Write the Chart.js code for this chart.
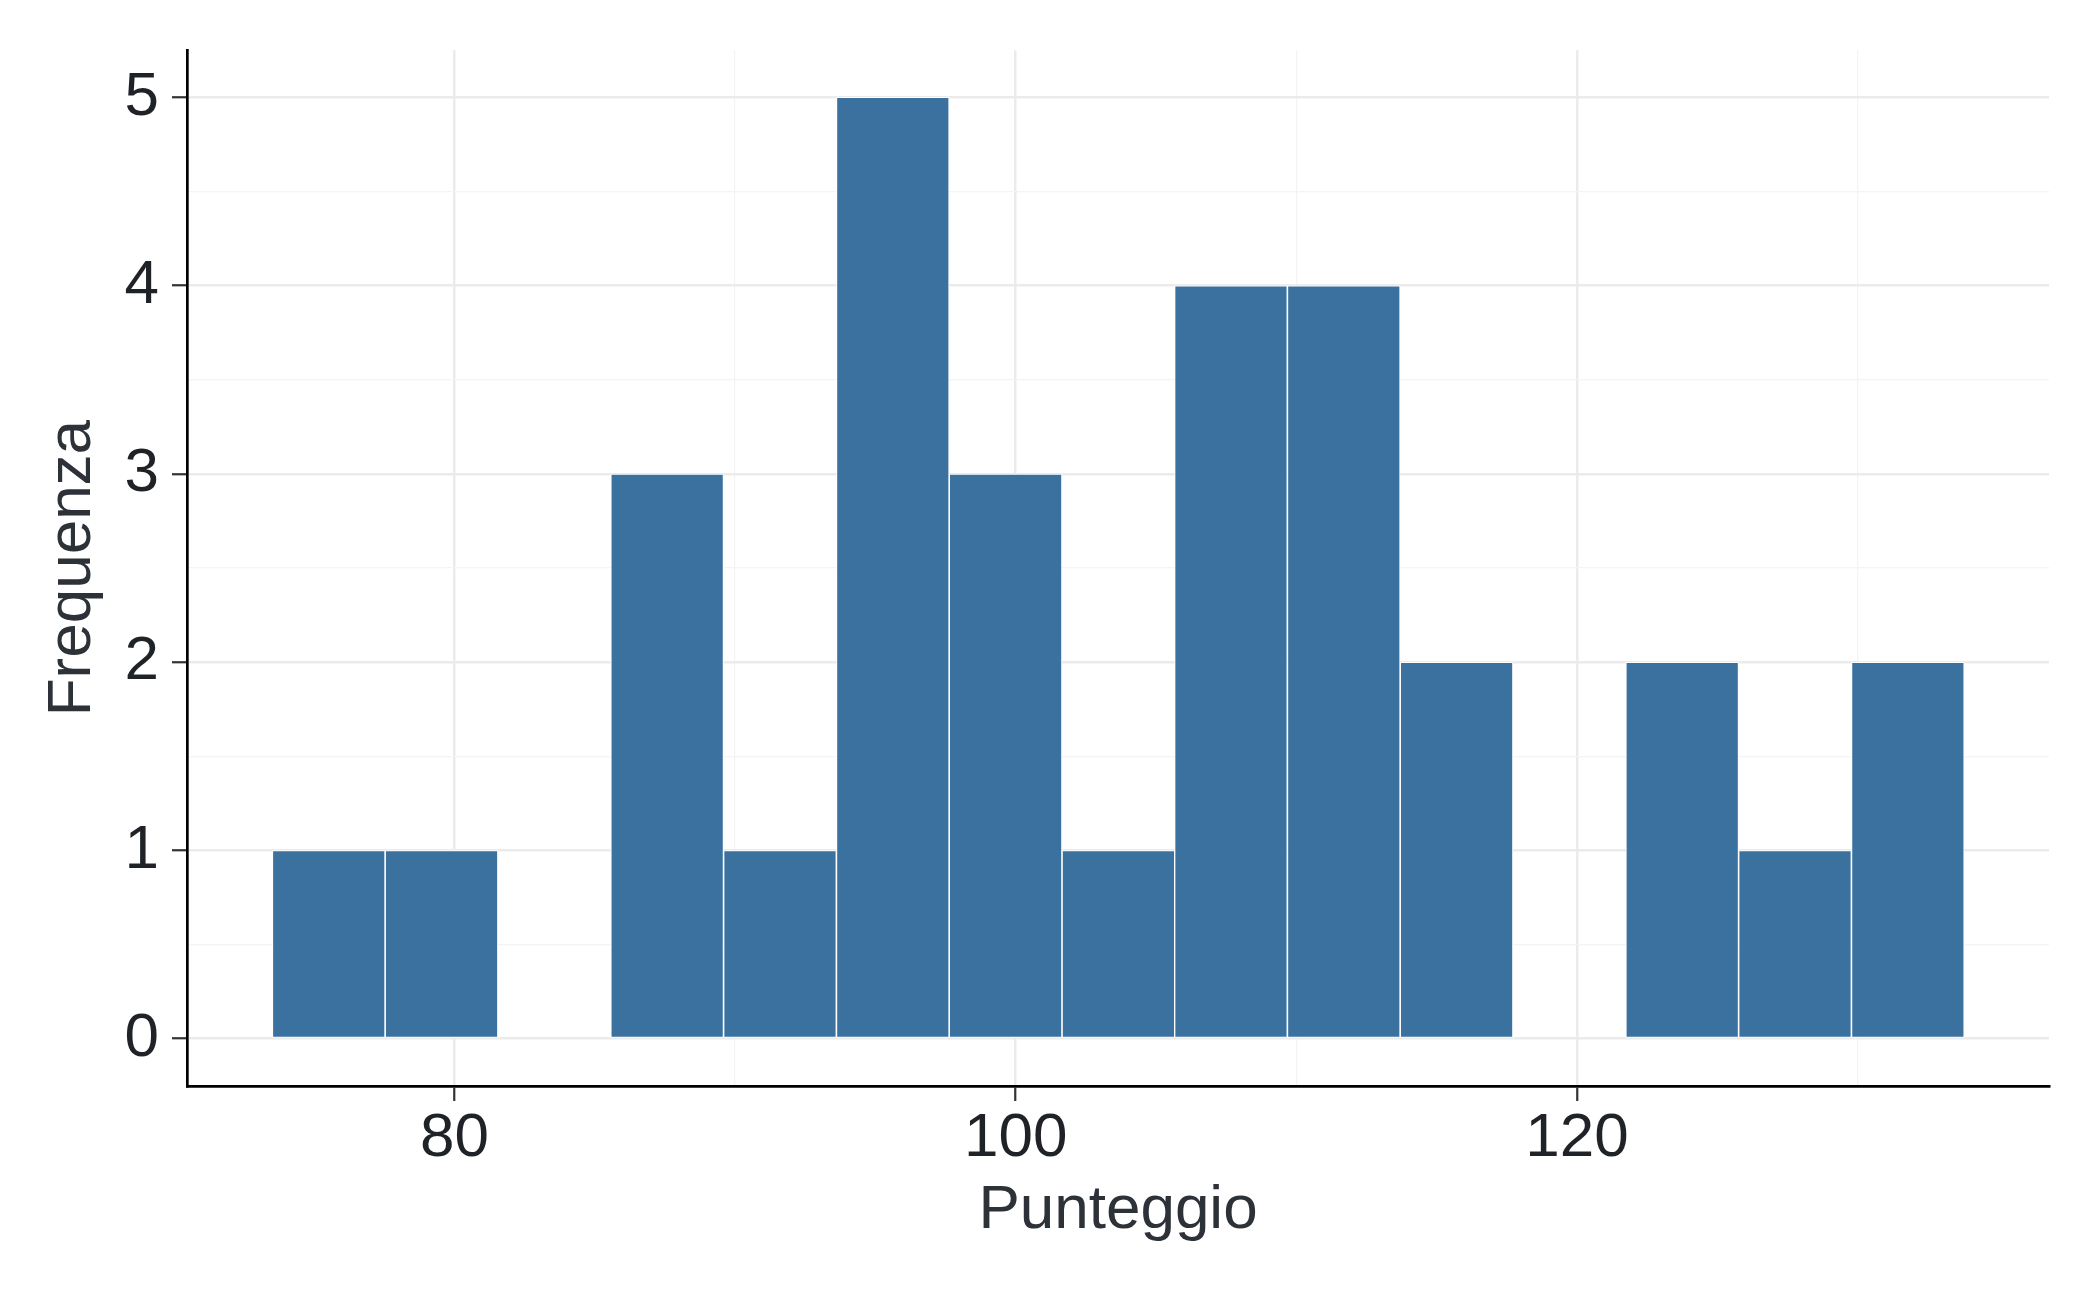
<!DOCTYPE html>
<html lang="it">
<head>
    <meta charset="UTF-8">
    <title>Istogramma - Punteggio</title>
    <script src="https://cdn.jsdelivr.net/npm/chart.js"></script>
    <style>
        body {
            margin: 0;
            background-color: #ffffff;
        }

        .wrap {
            width: 2100px;
            height: 1297px;
            position: relative;
        }
    </style>
</head>
<body>
    <div class="wrap">
        <canvas id="istogramma"></canvas>
    </div>

    <script>
        // centri delle classi (ampiezza ~4.02) e frequenze
        const centri = [75.52, 79.54, 83.56, 87.58, 91.60, 95.62, 99.64, 103.66,
                        107.67, 111.69, 115.71, 119.73, 123.75, 127.77, 131.79];
        const frequenze = [1, 1, 0, 3, 1, 5, 3, 1, 4, 4, 2, 0, 2, 1, 2];

        const tickX = [80, 100, 120];
        const tickY = [0, 1, 2, 3, 4, 5];

        const font = { family: "'Liberation Sans', Arial, sans-serif", size: 62 };
        const gridMaggiore = '#ebebeb';
        const gridMinore = '#f4f4f4';
        const blu = '#3a719f';

        const ctx = document.getElementById('istogramma').getContext('2d');
        new Chart(ctx, {
            type: 'bar',
            data: {
                datasets: [
                    {
                        label: 'Frequenza',
                        data: centri.map((c, i) => ({ x: c, y: frequenze[i] })),
                        backgroundColor: c => (c.raw && c.raw.y > 0 ? blu : 'rgba(0,0,0,0)'),
                        borderColor: '#ffffff',
                        borderWidth: c => (c.raw && c.raw.y > 0 ? 1 : 0),
                        borderSkipped: false,
                        barPercentage: 1,
                        categoryPercentage: 1,
                        grouped: false
                    }
                ]
            },
            options: {
                responsive: true,
                maintainAspectRatio: false,
                animation: false,
                layout: {
                    padding: { top: 50, right: 51, left: 0, bottom: 0 }
                },
                plugins: {
                    legend: { display: false },
                    tooltip: { enabled: false }
                },
                scales: {
                    x: {
                        type: 'linear',
                        min: 70.47,
                        max: 136.82,
                        offset: false,
                        afterFit: s => { s.height = 211; },
                        ticks: {
                            stepSize: 10,
                            includeBounds: false,
                            autoSkip: false,
                            maxRotation: 0,
                            padding: 1,
                            color: '#1f2328',
                            font: font,
                            callback: v => (tickX.includes(v) ? v : '')
                        },
                        grid: {
                            offset: false,
                            color: c => (tickX.includes(c.tick.value) ? gridMaggiore : gridMinore),
                            lineWidth: c => (tickX.includes(c.tick.value) ? 2.5 : 1.3),
                            tickLength: 15,
                            tickWidth: 2.2,
                            tickColor: c => (tickX.includes(c.tick.value) ? '#333333' : 'rgba(0,0,0,0)')
                        },
                        border: { display: true, color: '#000000', width: 2.7 },
                        title: {
                            display: true,
                            text: 'Punteggio',
                            color: '#2d3138',
                            font: font,
                            padding: { top: 0, bottom: 49 }
                        }
                    },
                    y: {
                        min: -0.251,
                        max: 5.251,
                        afterFit: s => { s.width = 187; },
                        ticks: {
                            stepSize: 0.5,
                            includeBounds: false,
                            autoSkip: false,
                            padding: 13,
                            color: '#1f2328',
                            font: font,
                            callback: v => (tickY.includes(v) ? v : '')
                        },
                        grid: {
                            color: c => (tickY.includes(c.tick.value) ? gridMaggiore : gridMinore),
                            lineWidth: c => (tickY.includes(c.tick.value) ? 2.5 : 1.3),
                            tickLength: 15,
                            tickWidth: 2.2,
                            tickColor: c => (tickY.includes(c.tick.value) ? '#333333' : 'rgba(0,0,0,0)')
                        },
                        border: { display: true, color: '#000000', width: 2.7 },
                        title: {
                            display: true,
                            text: 'Frequenza',
                            color: '#2d3138',
                            font: font,
                            padding: { top: 36, bottom: 0 }
                        }
                    }
                }
            }
        });
    </script>
</body>
</html>
